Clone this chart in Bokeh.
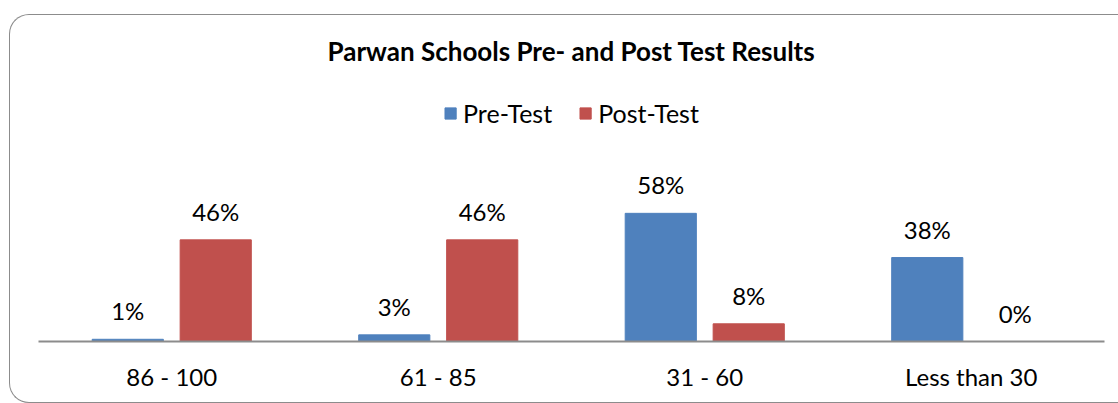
from bokeh.plotting import figure
from bokeh.models import (ColumnDataSource, FactorRange, LabelSet, Legend, LegendItem, Range1d)
from bokeh.core.properties import value
from bokeh.transform import dodge
from bokeh.embed import file_html
from bokeh.resources import INLINE

categories = ["86 - 100", "61 - 85", "31 - 60", "Less than 30"]
pre_test = [1, 3, 58, 38]
post_test = [46, 46, 8, 0]
series_names = ["Pre-Test", "Post-Test"]

BLUE = "#4F81BD"
RED = "#C0504D"
FONT = "Lato"

src = ColumnDataSource(dict(
    cat=categories,
    pre=pre_test,
    post=post_test,
    pre_lbl=[f"{v}%" for v in pre_test],
    post_lbl=[f"{v}%" for v in post_test],
))

p = figure(width=1109, height=389, output_backend="svg", toolbar_location=None,
           x_range=FactorRange(*categories, range_padding=0),
           y_range=Range1d(0, 124), min_border_left=28, min_border_right=15,
           min_border_top=52, min_border_bottom=63,
           title="Parwan Schools Pre- and Post Test Results")

p.styles = {
    "margin-top": "14px",
    "margin-left": "9px",
    "border-top": "1.5px solid #8c8c8c",
    "border-left": "1.5px solid #8c8c8c",
    "border-bottom": "1.5px solid #8c8c8c",
    "border-top-left-radius": "20px",
    "border-bottom-left-radius": "20px",
    "box-sizing": "border-box",
}
p.border_fill_alpha = 0

p.title.align = "center"
p.title.text_font = FONT
p.title.text_font_size = "26px"
p.title.text_font_style = "bold"
p.title.text_color = "black"
p.title.standoff = 2

r_pre = p.vbar(x=dodge("cat", -0.165, range=p.x_range), top="pre", width=0.267,
               source=src, fill_color=BLUE, line_color=BLUE)
r_post = p.vbar(x=dodge("cat", 0.165, range=p.x_range), top="post", width=0.267,
                source=src, fill_color=RED, line_color=RED)

for col, off in (("pre", -0.165), ("post", 0.165)):
    labels = LabelSet(x=dodge("cat", off, range=p.x_range), y=col, text=col + "_lbl",
                      source=src, text_align="center", text_baseline="alphabetic",
                      y_offset=19, text_font=value(FONT), text_font_size="24px",
                      text_color="black")
    p.add_layout(labels)

legend = Legend(items=[LegendItem(label=series_names[0], renderers=[r_pre]),
                       LegendItem(label=series_names[1], renderers=[r_post])],
                location="top_center", orientation="horizontal")
legend.label_text_font = FONT
legend.label_text_font_size = "25px"
legend.label_text_color = "black"
legend.glyph_width = 14
legend.glyph_height = 14
legend.label_standoff = 6
legend.spacing = 26
legend.border_line_color = None
legend.background_fill_alpha = 0
legend.margin = 31
legend.padding = 0
p.add_layout(legend)

p.yaxis.visible = False
p.xgrid.grid_line_color = None
p.ygrid.grid_line_color = None
p.outline_line_color = None
p.xaxis.axis_line_color = "#8c8c8c"
p.xaxis.axis_line_width = 2
p.xaxis.major_tick_line_color = None
p.xaxis.minor_tick_line_color = None
p.xaxis.major_tick_out = 0
p.xaxis.major_tick_in = 0
p.xaxis.major_label_standoff = 20
p.xaxis.major_label_text_font = FONT
p.xaxis.major_label_text_font_size = "24px"
p.xaxis.major_label_text_color = "black"

open("out.html", "w").write(file_html(p, INLINE))
